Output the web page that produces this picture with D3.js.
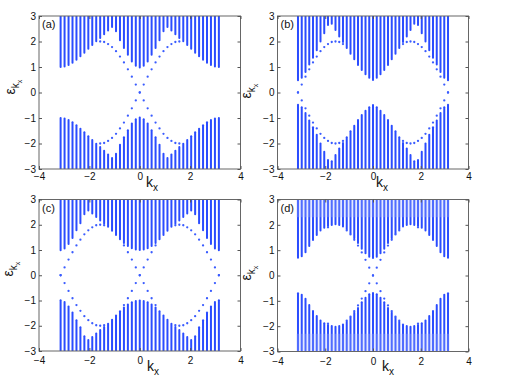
<!DOCTYPE html>
<html><head><meta charset="utf-8">
<script src="https://cdn.jsdelivr.net/npm/d3@7"></script>
<style>body{margin:0;background:#fff}svg{display:block}text{font-family:"Liberation Sans",Arial,sans-serif}</style>
</head><body><svg id="c" width="518" height="379"></svg>
<script>
// k_x grid (41 points from -pi to pi)
const kx = [-3.142,-2.985,-2.827,-2.670,-2.513,-2.356,-2.199,-2.042,-1.885,-1.728,-1.571,-1.414,-1.257,-1.100,-0.942,-0.785,-0.628,-0.471,-0.314,-0.157,0,
             0.157,0.314,0.471,0.628,0.785,0.942,1.100,1.257,1.414,1.571,1.728,1.885,2.042,2.199,2.356,2.513,2.670,2.827,2.985,3.142];
// edge-state energies per panel (dots at +E and -E; null = no edge state)
const edgeA = [null,null,null,null,null,null,null,null,-1.90,-1.98,-2.00,-1.98,-1.90,-1.78,-1.62,-1.41,-1.18,-0.91,-0.62,-0.31,0,
               0.31,0.62,0.91,1.18,1.41,1.62,1.78,1.90,1.98,2.00,1.98,1.90,null,null,null,null,null,null,null,null];
const edgeB = [0,-0.31,-0.62,-0.91,-1.18,-1.41,-1.62,-1.78,-1.90,-1.98,-2.00,-1.98,-1.90,-1.78,null,null,null,null,null,null,null,
               null,null,null,null,null,null,1.78,1.90,1.98,2.00,1.98,1.90,1.78,1.62,1.41,1.18,0.91,0.62,0.31,0];
const edgeC = [0,-0.31,-0.62,-0.91,-1.18,-1.41,-1.62,-1.78,-1.90,-1.98,-2.00,-1.98,-1.90,-1.78,-1.62,-1.41,-1.18,-0.91,-0.62,-0.31,0,
               0.31,0.62,0.91,1.18,1.41,1.62,1.78,1.90,1.98,2.00,1.98,1.90,1.78,1.62,1.41,1.18,0.91,0.62,0.31,0];
const edgeD = [null,null,null,null,null,null,null,null,-1.90,-1.98,-2.00,-1.98,-1.90,-1.78,-1.62,-1.41,-1.18,-0.91,-0.62,-0.31,0,
               0.31,0.62,0.91,1.18,1.41,1.62,1.78,1.90,1.98,2.00,1.98,1.90,null,null,null,null,null,null,null,null];
// bulk band edges: bottom of upper band, top of lower band
const upA = [1.00,1.02,1.08,1.17,1.28,1.42,1.56,1.72,1.86,2.01,2.14,2.28,2.43,2.57,2.40,2.05,1.75,1.48,1.22,1.05,0.98,
             1.05,1.22,1.48,1.75,2.05,2.40,2.57,2.43,2.28,2.14,2.01,1.86,1.72,1.56,1.42,1.28,1.17,1.08,1.02,1.00];
const lowA = [-1.00,-1.02,-1.08,-1.17,-1.28,-1.42,-1.56,-1.72,-1.86,-2.01,-2.14,-2.28,-2.43,-2.57,-2.40,-2.05,-1.75,-1.48,-1.22,-1.05,-0.98,
              -1.05,-1.22,-1.48,-1.75,-2.05,-2.40,-2.57,-2.43,-2.28,-2.14,-2.01,-1.86,-1.72,-1.56,-1.42,-1.28,-1.17,-1.08,-1.02,-1.00];
const upB = [0.48,0.58,0.80,1.10,1.36,1.66,2.00,2.32,2.65,2.70,2.45,2.20,1.98,1.75,1.52,1.30,1.08,0.88,0.72,0.58,0.49,
             0.58,0.72,0.88,1.08,1.30,1.52,1.75,1.98,2.20,2.45,2.70,2.65,2.32,2.00,1.66,1.36,1.10,0.80,0.58,0.48];
const lowB = [-0.48,-0.58,-0.80,-1.10,-1.36,-1.66,-2.00,-2.32,-2.65,-2.70,-2.45,-2.20,-1.98,-1.75,-1.52,-1.30,-1.08,-0.88,-0.72,-0.58,-0.49,
              -0.58,-0.72,-0.88,-1.08,-1.30,-1.52,-1.75,-1.98,-2.20,-2.45,-2.70,-2.65,-2.32,-2.00,-1.66,-1.36,-1.10,-0.80,-0.58,-0.48];
const upC = [0.99,1.06,1.24,1.48,1.78,2.06,2.42,2.56,2.45,2.31,2.17,2.05,1.92,1.76,1.59,1.43,1.28,1.16,1.07,1.02,1.00,
             1.02,1.07,1.16,1.28,1.43,1.59,1.76,1.92,2.05,2.17,2.31,2.45,2.56,2.42,2.06,1.78,1.48,1.24,1.06,0.99];
const lowC = [-0.99,-1.06,-1.24,-1.48,-1.78,-2.06,-2.42,-2.56,-2.45,-2.31,-2.17,-2.05,-1.92,-1.76,-1.59,-1.43,-1.28,-1.16,-1.07,-1.02,-1.00,
              -1.02,-1.07,-1.16,-1.28,-1.43,-1.59,-1.76,-1.92,-2.05,-2.17,-2.31,-2.45,-2.56,-2.42,-2.06,-1.78,-1.48,-1.24,-1.06,-0.99];
const upD = [0.70,0.76,0.92,1.16,1.40,1.60,1.78,1.88,1.95,1.99,2.02,1.99,1.93,1.83,1.66,1.47,1.28,1.06,0.88,0.74,0.69,
             0.74,0.88,1.06,1.28,1.47,1.66,1.83,1.93,1.99,2.02,1.99,1.95,1.88,1.78,1.60,1.40,1.16,0.92,0.76,0.70];
const lowD = [-0.70,-0.76,-0.92,-1.16,-1.40,-1.60,-1.78,-1.88,-1.95,-1.99,-2.02,-1.99,-1.93,-1.83,-1.66,-1.47,-1.28,-1.06,-0.88,-0.74,-0.69,
              -0.74,-0.88,-1.06,-1.28,-1.47,-1.66,-1.83,-1.93,-1.99,-2.02,-1.99,-1.95,-1.88,-1.78,-1.60,-1.40,-1.16,-0.92,-0.76,-0.70];
// faint dense-bulk region in panel (d): |E| from 2.3 to 3
const washD = [2.3, 3];
const xTicks = [-4,-2,0,2,4];
const yTicks = [-3,-2,-1,0,1,2,3];
const panelLabels = ["(a)","(b)","(c)","(d)"];

const panels = [
  {lab:panelLabels[0], up:upA, low:lowA, edge:edgeA, box:[39,240.5,16,169], ylab:[15,87], xlab:[146,187], pad:4},
  {lab:panelLabels[1], up:upB, low:lowB, edge:edgeB, box:[277.5,468.5,16,169], ylab:[251,91], xlab:[376,187], pad:4},
  {lab:panelLabels[2], up:upC, low:lowC, edge:edgeC, box:[39,240.5,199.5,351], ylab:[13,269], xlab:[147,371], pad:6},
  {lab:panelLabels[3], up:upD, low:lowD, edge:edgeD, box:[277.5,468.5,199.5,351.5], ylab:[251,273], xlab:[382,371], pad:6, wash:washD}
];
const BLUE = "#2a4cff";
const svg = d3.select("#c");
const fmt = d3.format("d");

panels.forEach((p,pi) => {
  const [x0,x1,y0,y1] = p.box;
  const x = d3.scaleLinear().domain([-4,4]).range([x0,x1]);
  const y = d3.scaleLinear().domain([-3,3]).range([y1,y0]);
  const g = svg.append("g");
  const cid = "clip"+pi;
  g.append("clipPath").attr("id",cid).append("rect").attr("x",x0).attr("y",y0).attr("width",x1-x0).attr("height",y1-y0);
  const pg = g.append("g").attr("clip-path",`url(#${cid})`);
  if (p.wash) {
    const [a,b] = p.wash;
    [[a,b],[-b,-a]].forEach(([lo,hi]) => {
      pg.append("rect").attr("x",x(kx[0])-1.5).attr("width",x(kx[kx.length-1])-x(kx[0])+3)
        .attr("y",y(hi)).attr("height",y(lo)-y(hi))
        .attr("fill","#dfe5ff");
    });
  }
  // bulk columns
  pg.selectAll("line.up").data(kx).join("line").attr("class","up")
    .attr("x1",(d)=>x(d)).attr("x2",(d)=>x(d))
    .attr("y1",(d,i)=>y(p.up[i])).attr("y2",y(3.3))
    .attr("stroke",BLUE).attr("stroke-width",2).attr("stroke-linecap","round");
  pg.selectAll("line.lo").data(kx).join("line").attr("class","lo")
    .attr("x1",(d)=>x(d)).attr("x2",(d)=>x(d))
    .attr("y1",(d,i)=>y(p.low[i])).attr("y2",y(-3.3))
    .attr("stroke",BLUE).attr("stroke-width",2).attr("stroke-linecap","round");
  if (p.wash) {
    const [a,b] = p.wash;
    [[a,b],[-b,-a]].forEach(([lo,hi]) => {
      pg.append("rect").attr("x",x(kx[0])-1.5).attr("width",x(kx[kx.length-1])-x(kx[0])+3)
        .attr("y",y(hi)).attr("height",y(lo)-y(hi))
        .attr("fill","#ffffff").attr("opacity",0.18);
    });
  }
  // edge-state dots
  const pts = [];
  kx.forEach((k,i)=>{
    const e = p.edge[i];
    if (e === null) return;
    [e, -e].forEach(v=>{ if (v < p.up[i] - 0.03 && v > p.low[i] + 0.03) pts.push([k,v]); });
  });
  pg.selectAll("circle").data(pts).join("circle")
    .attr("cx",d=>x(d[0])).attr("cy",d=>y(d[1])).attr("r",1.15).attr("fill","#3a5cff");

  // box
  g.append("rect").attr("x",x0).attr("y",y0).attr("width",x1-x0).attr("height",y1-y0)
    .attr("fill","none").attr("stroke","#666").attr("stroke-width",1);
  // axes with inward ticks
  const ax = (gen, tr) => {
    const a = g.append("g").attr("transform",tr).call(gen);
    a.select(".domain").remove();
    a.selectAll("line").attr("stroke","#555");
    a.selectAll("text").attr("font-size",10).attr("fill","#111").attr("font-family",'"Liberation Sans",Arial,sans-serif');
    return a;
  };
  ax(d3.axisBottom(x).tickValues(xTicks).tickFormat(fmt).tickSize(-3).tickPadding(p.pad), `translate(0,${y1})`);
  ax(d3.axisTop(x).tickValues(xTicks).tickSize(-3).tickFormat(""), `translate(0,${y0})`);
  ax(d3.axisLeft(y).tickValues(yTicks).tickFormat(fmt).tickSize(-3).tickPadding(3), `translate(${x0},0)`);
  ax(d3.axisRight(y).tickValues(yTicks).tickSize(-3).tickFormat(""), `translate(${x1},0)`);

  // panel label
  g.append("text").attr("x",x0+3).attr("y",y0+12).attr("font-size",11).attr("fill","#111").text(p.lab);
  // x label k_x
  const xl = g.append("text").attr("x",p.xlab[0]).attr("y",p.xlab[1]).attr("font-size",14).attr("fill","#111");
  xl.append("tspan").text("k");
  xl.append("tspan").attr("dy",4).attr("font-size",10).text("x");
  // y label epsilon_{k_x}
  const yl = g.append("text").attr("transform",`translate(${p.ylab[0]},${p.ylab[1]}) rotate(-90)`)
    .attr("text-anchor","middle").attr("font-size",14).attr("fill","#111");
  yl.append("tspan").text("ε");
  yl.append("tspan").attr("dy",4).attr("font-size",10).text("k");
  yl.append("tspan").attr("dy",3).attr("font-size",7).text("x");
});
</script></body></html>
